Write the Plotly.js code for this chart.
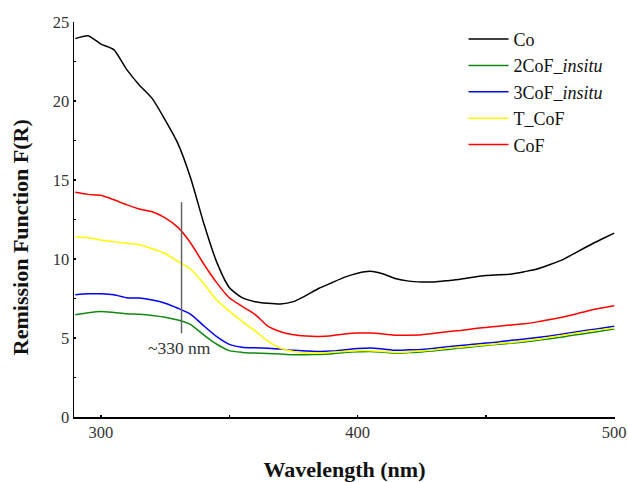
<!DOCTYPE html>
<html>
<head>
<meta charset="utf-8">
<script src="https://cdn.plot.ly/plotly-3.0.1.min.js"></script>
<style>html,body{margin:0;padding:0;background:#fff;}#chart{width:628px;height:482px;}</style>
</head>
<body>
<div id="chart"></div>
<script>
const wavelength = [290,295,300,305,310,315,320,325,330,335,340,345,350,355,360,365,370,375,380,385,390,395,400,405,410,415,420,425,430,435,440,445,450,455,460,465,470,475,480,485,490,495,500];
const Co = [23.95,24.13,23.6,23.25,22.0,21.0,20.15,18.8,17.3,15.1,12.3,9.85,8.2,7.55,7.3,7.2,7.15,7.3,7.7,8.15,8.5,8.85,9.1,9.22,9.05,8.75,8.6,8.55,8.55,8.63,8.72,8.85,8.96,9.0,9.05,9.2,9.37,9.65,9.96,10.4,10.84,11.25,11.64];
const CoF2_insitu = [6.47,6.6,6.68,6.62,6.54,6.5,6.43,6.32,6.14,5.85,5.2,4.62,4.2,4.09,4.05,4.02,3.98,3.94,3.94,3.96,4.0,4.08,4.13,4.15,4.1,4.05,4.08,4.12,4.2,4.28,4.36,4.45,4.53,4.6,4.68,4.75,4.85,4.95,5.07,5.2,5.32,5.45,5.57];
const CoF3_insitu = [7.74,7.8,7.8,7.74,7.55,7.53,7.4,7.2,6.88,6.5,5.78,5.1,4.6,4.42,4.38,4.35,4.3,4.22,4.18,4.15,4.17,4.25,4.33,4.37,4.3,4.22,4.25,4.28,4.35,4.45,4.52,4.6,4.68,4.75,4.85,4.93,5.03,5.13,5.25,5.38,5.5,5.62,5.74];
const T_CoF = [11.39,11.35,11.2,11.1,11.0,10.9,10.65,10.35,9.85,9.35,8.45,7.42,6.7,6.05,5.45,4.8,4.35,4.15,4.05,4.05,4.1,4.15,4.2,4.2,4.15,4.1,4.12,4.18,4.25,4.35,4.42,4.5,4.57,4.65,4.72,4.82,4.92,5.05,5.17,5.3,5.42,5.53,5.63];
const CoF = [14.22,14.09,14.03,13.75,13.44,13.16,12.99,12.6,12.0,11.0,9.7,8.52,7.55,7.0,6.5,5.75,5.4,5.2,5.12,5.1,5.15,5.25,5.31,5.31,5.25,5.17,5.18,5.21,5.3,5.4,5.48,5.58,5.67,5.75,5.83,5.9,6.02,6.17,6.33,6.52,6.73,6.9,7.04];

const seriesNames = ['Co','2CoF_<i>insitu</i>','3CoF_<i>insitu</i>','T_CoF','CoF'];
const seriesValues = [Co, CoF2_insitu, CoF3_insitu, T_CoF, CoF];
const seriesColors = ['#000000','#118811','#0000ee','#ffff00','#ff0000'];

const xTickVals = [300,350,400,450,500];
const xTickText = ['300','','400','','500'];
const yTickVals = [0,2.5,5,7.5,10,12.5,15,17.5,20,22.5,25];
const yTickText = ['0','','5','','10','','15','','20','','25'];

const xTitle = '<b>Wavelength (nm)</b>';
const yTitle = '<b>Remission Function F(R)</b>';

const markerWavelength = 331.4;
const markerRange = [5.3, 13.6];
const markerLabel = '~330 nm';

const serif = 'Liberation Serif, Times New Roman, serif';

const traces = seriesNames.map((n,i)=>({
  x: wavelength, y: seriesValues[i], name: n, type:'scatter', mode:'lines',
  line:{color: seriesColors[i], width:1.5, shape:'spline', smoothing:0.6},
  legendgroup: 'g'+i
}));

const layout = {
  width:628, height:482,
  margin:{l:74, r:13, t:22, b:65},
  paper_bgcolor:'#fff', plot_bgcolor:'#fff',
  font:{family: serif, size:16, color:'#333'},
  showlegend:true,
  legend:{x:0.72, y:1.003, xanchor:'left', yanchor:'top', bgcolor:'rgba(0,0,0,0)', font:{family:serif,size:18,color:'#111'}, tracegroupgap:0, itemwidth:40},
  xaxis:{range:[289.5,500.3], tickmode:'array', tickvals:xTickVals, ticktext:xTickText, ticks:'inside', ticklen:2, tickwidth:1.5, tickcolor:'#000',
    showline:true, linecolor:'#000', linewidth:1.5, showgrid:false, zeroline:false,
    tickfont:{family:serif,size:16.5,color:'#333'},
    title:{text:xTitle, font:{family:serif,size:22,color:'#111'}, standoff:22}},
  yaxis:{range:[0,25], tickmode:'array', tickvals:yTickVals, ticktext:yTickText, ticks:'inside', ticklen:2, tickwidth:1.5, tickcolor:'#000',
    showline:true, linecolor:'#000', linewidth:1.5, showgrid:false, zeroline:false,
    tickfont:{family:serif,size:16.5,color:'#333'}},
  shapes:[{type:'line', xref:'x', yref:'y', x0:markerWavelength, x1:markerWavelength, y0:markerRange[0], y1:markerRange[1], line:{color:'#666', width:1.5}}],
  annotations:[
    {x:markerWavelength, y:markerRange[0], xref:'x', yref:'y', text:markerLabel, showarrow:false, yanchor:'top', yshift:-3, xshift:-2, font:{family:serif,size:17.5,color:'#333'}},
    {x:-0.1, y:0.455, xref:'paper', yref:'paper', text:yTitle, textangle:-90, showarrow:false, xanchor:'center', yanchor:'middle', font:{family:serif,size:22,color:'#111'}}
  ]
};

Plotly.newPlot('chart', traces, layout, {displayModeBar:false, staticPlot:true});
</script>
</body>
</html>
